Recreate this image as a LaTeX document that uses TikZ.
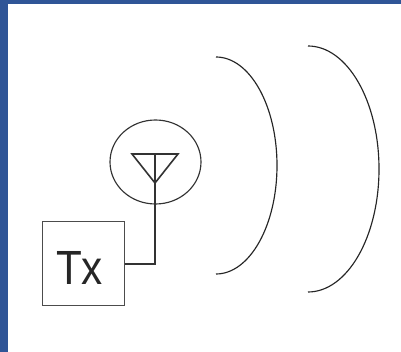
\documentclass[tikz,border=0pt]{standalone}
\usepackage{fontspec}
\usetikzlibrary{shapes.geometric}
\setmainfont{Liberation Sans}
\definecolor{bluebar}{HTML}{2F5597}
\tikzset{
  ink/.style={draw=black!80,line width=1pt},
  wave/.style={draw=black!85,line width=1.15pt},
  band/.style={fill=bluebar,draw=none}
}
\begin{document}
\begin{tikzpicture}[x=1pt,y=-1pt]
\useasboundingbox (0,0) rectangle (401,352);
\fill[white] (0,0) rectangle (401,352);
\fill[band] (0,0) rectangle (401,4);
\fill[band] (0,0) rectangle (8,352);
\node[ink,draw=black!70,minimum width=82pt,minimum height=83pt,inner sep=0pt] (box) at (83,263.5) {};
\node[inner sep=0pt,anchor=base,text=black!85,xscale=0.88] (label) at (80,284) {\fontsize{48}{48}\selectfont T\kern-0.02em x};
\node[ink,ellipse,line width=1.15pt,minimum width=91pt,minimum height=84pt,inner sep=0pt] (lobe) at (155.5,162) {};
\coordinate (tl) at (132,154);
\coordinate (tr) at (178,154);
\coordinate (apex) at (155,183);
\coordinate (feed) at (155,154);
\coordinate (bend) at (155,264);
\draw[ink,line width=1.6pt,line join=miter] (tl) -- (tr) -- (apex) -- cycle;
\draw[ink,line width=1.2pt] (feed) -- (bend) -- (box.east |- bend);
\coordinate (wa) at (216,57);
\coordinate (wb) at (308,46);
\draw[wave] (wa) arc[start angle=90,end angle=-90,x radius=61pt,y radius=108.5pt];
\draw[wave] (wb) arc[start angle=90,end angle=-90,x radius=71pt,y radius=123pt];
\end{tikzpicture}
\end{document}
